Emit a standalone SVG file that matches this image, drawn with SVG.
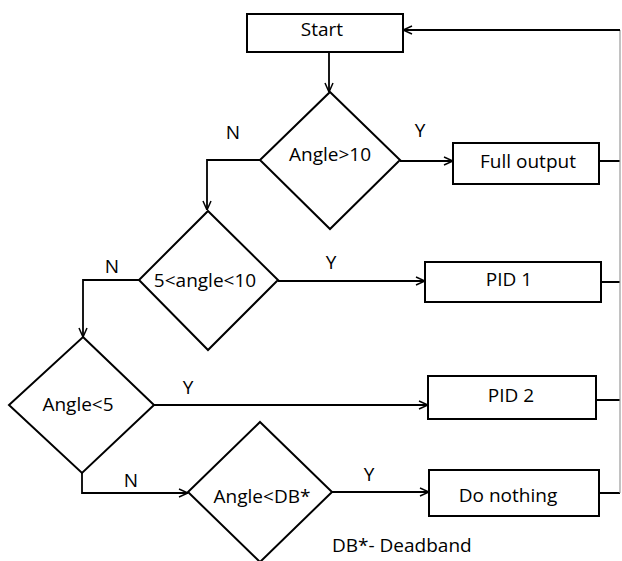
<svg xmlns="http://www.w3.org/2000/svg" width="622" height="561" viewBox="0 0 622 561">
<defs>
<marker id="arr" viewBox="0 0 10 10" refX="10" refY="5" markerWidth="10" markerHeight="10" markerUnits="userSpaceOnUse" orient="auto">
<path d="M1,1 L10,5 L1,9" fill="none" stroke="#000" stroke-width="1.5"/>
</marker>
<style>
.shape{fill:#fff;stroke:#000;stroke-width:2}
.t{font-family:"Open Sans","Noto Sans",sans-serif;font-size:19px;fill:#000;text-anchor:middle}
.c{fill:none;stroke:#000;stroke-width:1.8}
.a{marker-end:url(#arr)}
</style>
</defs>
<rect width="622" height="561" fill="#fff"/>
<g id="connectors">
<path class="c a" d="M329,52 V92"/>
<path class="c a" d="M260,160 H207 V210"/>
<path class="c a" d="M400,161 H453"/>
<path class="c a" d="M139,280 H83 V337"/>
<path class="c a" d="M278,281 H425"/>
<path class="c a" d="M154,405 H428"/>
<path class="c a" d="M82,473 V493 H188"/>
<path class="c a" d="M332,492 H429"/>
<path class="c" d="M599,161 H620 M601,282 H620 M596,400 H620 M599,493 H620"/>
<path d="M620,493 V30" fill="none" stroke="#9a9a9a" stroke-width="1.2"/>
<path class="c a" d="M620,30 H403"/>
</g>
<g id="labels">
<text class="t" x="233" y="139">N</text>
<text class="t" x="420" y="137">Y</text>
<text class="t" x="112" y="273">N</text>
<text class="t" x="331" y="269">Y</text>
<text class="t" x="188" y="394">Y</text>
<text class="t" x="131" y="487">N</text>
<text class="t" x="369" y="481">Y</text>
</g>
<g id="start"><rect class="shape" x="247" y="14" width="156" height="38"/><text class="t" x="322" y="36">Start</text></g>
<g id="d1"><polygon class="shape" points="330,92 400,160 330,229 260,160"/><text class="t" x="330" y="161">Angle&gt;10</text></g>
<g id="full"><rect class="shape" x="453" y="143" width="146" height="41"/><text class="t" x="528" y="168">Full output</text></g>
<g id="d2"><polygon class="shape" points="208,211 278,280 208,350 139,280"/><text class="t" x="205" y="287">5&lt;angle&lt;10</text></g>
<g id="pid1"><rect class="shape" x="425" y="262" width="176" height="40"/><text class="t" x="509" y="286">PID 1</text></g>
<g id="d3"><polygon class="shape" points="83,337 154,405 82,473 9,405"/><text class="t" x="78" y="411">Angle&lt;5</text></g>
<g id="pid2"><rect class="shape" x="428" y="376" width="168" height="43"/><text class="t" x="511" y="402">PID 2</text></g>
<g id="d4"><polygon class="shape" points="260,422 332,492 260,562 188,492"/><text class="t" x="262" y="503">Angle&lt;DB*</text></g>
<g id="nothing"><rect class="shape" x="429" y="470" width="170" height="46"/><text class="t" x="508" y="502">Do nothing</text></g>
<g id="note"><text class="t" x="332" y="552" style="text-anchor:start">DB*- Deadband</text></g>
</svg>
